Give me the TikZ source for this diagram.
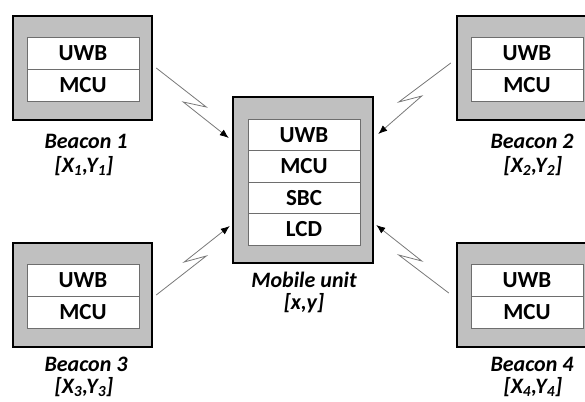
\documentclass[tikz,border=0pt]{standalone}
\usepackage{fontspec}
\setmainfont{Carlito}
\usetikzlibrary{arrows.meta,calc}
\definecolor{boxgray}{RGB}{192,192,192}
\definecolor{cellline}{RGB}{110,110,110}
\definecolor{linkgray}{RGB}{120,120,120}

\begin{document}
\begin{tikzpicture}[x=1pt,y=-1pt,
  outerbox/.style={draw=black,line width=2.5pt,fill=boxgray,inner sep=0pt,
    minimum width=139pt,minimum height=104pt},
  cell/.style={draw=cellline,line width=0.8pt,fill=white,inner sep=0pt,
    minimum width=112pt,minimum height=32pt,
    font=\fontsize{23}{25}\selectfont\bfseries},
  caption/.style={font=\fontsize{22}{24}\selectfont\bfseries\itshape,align=center},
  link/.style={draw=linkgray,line width=0.8pt,line join=miter,
    -{Latex[length=9pt,width=7pt,color=black]}}
]
\useasboundingbox (0,0) rectangle (585,401);
\clip (0,0) rectangle (585,401);

% beacons
\node[outerbox] (b1) at (82.5,68) {};
\node[cell] (b1u) at (83,53) {UWB};
\node[cell] (b1m) at (83,85) {MCU};
\node[caption] (b1c) at (86,141) {Beacon 1};
\node[caption] (b1p) at (84,166) {[X\textsubscript{1},Y\textsubscript{1}]};

\node[outerbox] (b2) at (526.5,68) {};
\node[cell] (b2u) at (527,53) {UWB};
\node[cell] (b2m) at (527,85) {MCU};
\node[caption] (b2c) at (532,141) {Beacon 2};
\node[caption] (b2p) at (533,166) {[X\textsubscript{2},Y\textsubscript{2}]};

\node[outerbox] (b3) at (82.5,295) {};
\node[cell] (b3u) at (83,280) {UWB};
\node[cell] (b3m) at (83,312) {MCU};
\node[caption] (b3c) at (86,364) {Beacon 3};
\node[caption] (b3p) at (84,387) {[X\textsubscript{3},Y\textsubscript{3}]};

\node[outerbox] (b4) at (526.5,295) {};
\node[cell] (b4u) at (527,280) {UWB};
\node[cell] (b4m) at (527,312) {MCU};
\node[caption] (b4c) at (532,364) {Beacon 4};
\node[caption] (b4p) at (533,387) {[X\textsubscript{4},Y\textsubscript{4}]};

% mobile unit
\node[outerbox,minimum width=140pt,minimum height=166pt] (mu) at (303,180) {};
\node[cell,minimum height=31.5pt] (muu) at (304,134.75) {UWB};
\node[cell,minimum height=31.5pt] (mum) at (304,166.25) {MCU};
\node[cell,minimum height=31.5pt] (mus) at (304,197.75) {SBC};
\node[cell,minimum height=31.5pt] (mul) at (304,229.25) {LCD};
\node[caption] (muc) at (304,280) {Mobile unit};
\node[caption] (mup) at (304,303) {[x,y]};

% end points of the radio links
\coordinate (s1) at ($(b1.east)+(3,0)$);
\coordinate (e1) at ($(mu.west)+(-3,-42)$);
\coordinate (s2) at ($(b2.west)+(-5,-5)$);
\coordinate (e2) at ($(mu.east)+(4,-46)$);
\coordinate (s3) at ($(b3.east)+(3,0)$);
\coordinate (e3) at ($(mu.west)+(-2,46)$);
\coordinate (s4) at ($(b4.west)+(-7,-2)$);
\coordinate (e4) at ($(mu.east)+(2,45)$);

% zig-zag radio links
\draw[link] (s1) -- ++(50,39) -- ++(-23,-5) -- (e1);
\draw[link] (s2) -- ++(-52,39) -- ++(23,-6) -- (e2);
\draw[link] (s3) -- ++(50,-39) -- ++(-22,6) -- (e3);
\draw[link] (s4) -- ++(-50,-38) -- ++(23,6) -- (e4);
\end{tikzpicture}
\end{document}
